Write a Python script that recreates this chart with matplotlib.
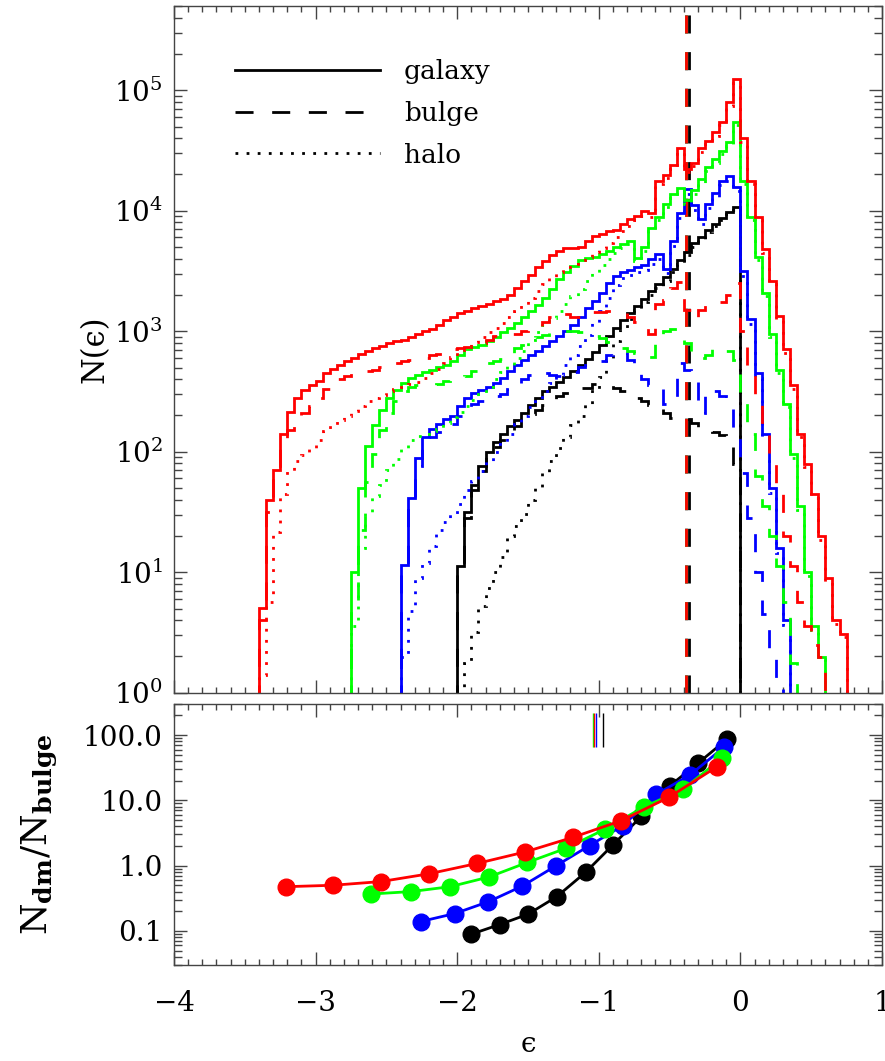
import numpy as np
import matplotlib
matplotlib.use("Agg")
import matplotlib.pyplot as plt
from matplotlib.lines import Line2D
from matplotlib.ticker import MultipleLocator, LogLocator, FixedLocator, FixedFormatter, NullFormatter

plt.rcParams['font.family'] = ['DejaVu Serif', 'DejaVu Sans']
plt.rcParams['mathtext.fontset'] = 'dejavuserif'

# histogram bin width in epsilon, and where each run's histogram starts
BIN = 0.05
runs = ['black', 'blue', 'green', 'red']
colors = ['#000000', '#0000ff', '#00ff00', '#ff0000']
start_eps = [-2.00, -2.40, -2.75, -3.40]

# log10 N(eps) per bin
black_galaxy = [1.05, 1.50, 1.72, 1.88, 2.00, 2.08, 2.15, 2.21, 2.26, 2.32,
                2.39, 2.45, 2.50, 2.54, 2.58, 2.62, 2.67, 2.72, 2.77, 2.83,
                2.89, 2.96, 3.03, 3.09, 3.15, 3.21, 3.27, 3.33, 3.39, 3.45,
                3.52, 3.59, 3.66, 3.73, 3.78, 3.84, 3.89, 3.94, 3.99, 4.03]
black_bulge = [1.0, 1.45, 1.68, 1.84, 1.96, 2.04, 2.10, 2.16, 2.21, 2.26,
               2.31, 2.35, 2.39, 2.43, 2.46, 2.49, 2.51, 2.53, 2.53, 2.56,
               2.56, 2.55, 2.53, 2.50, 2.47, 2.45, 2.42, 2.39, 2.36, 2.32,
               2.28, 2.26, 2.27, 2.24, 2.20, 2.18, 2.16, 2.14, 2.05, 1.90]
black_halo = [0.05, 0.25, 0.50, 0.72, 0.87, 1.00, 1.13, 1.30, 1.38, 1.48,
              1.60, 1.70, 1.82, 1.92, 2.03, 2.12, 2.22, 2.30, 2.40, 2.52,
              2.62, 2.76, 2.92, 3.02, 3.10, 3.18, 3.24, 3.30, 3.36, 3.42,
              3.49, 3.56, 3.63, 3.70, 3.76, 3.82, 3.87, 3.92, 3.97, 4.01]

blue_galaxy = [1.06, 1.62, 1.95, 2.12, 2.19, 2.23, 2.27, 2.30, 2.38, 2.45,
               2.49, 2.51, 2.54, 2.57, 2.61, 2.67, 2.72, 2.76, 2.80, 2.84,
               2.88, 2.92, 2.96, 3.00, 3.05, 3.12, 3.19, 3.25, 3.32, 3.40,
               3.46, 3.49, 3.51, 3.53, 3.55, 3.60, 3.64, 3.52, 3.75, 3.98,
               4.18, 4.05, 3.93, 4.06, 4.15, 4.25, 4.29, 4.20, 3.50, 3.10,
               2.65, 2.15, 1.70, 1.20, 0.60]
blue_bulge = [1.0, 1.55, 1.88, 2.05, 2.12, 2.16, 2.20, 2.23, 2.30, 2.36,
              2.40, 2.42, 2.44, 2.46, 2.48, 2.52, 2.56, 2.60, 2.64, 2.66,
              2.65, 2.64, 2.63, 2.64, 2.66, 2.70, 2.74, 2.75, 2.75, 2.80,
              2.84, 2.82, 2.76, 2.68, 2.60, 2.55, 2.52, 2.40, 2.42, 2.74,
              2.68, 2.62, 2.32, 2.52, 2.50, 2.46, 2.40, 2.15, 1.82, 1.45,
              1.00, 0.65, 0.30, 0.05]
blue_halo = [0.3, 0.68, 0.95, 1.08, 1.22, 1.35, 1.42, 1.48, 1.57, 1.68,
             1.76, 1.84, 1.92, 2.00, 2.08, 2.15, 2.23, 2.30, 2.37, 2.44,
             2.50, 2.57, 2.64, 2.72, 2.80, 2.88, 2.97, 3.07, 3.17, 3.28,
             3.38, 3.44, 3.47, 3.49, 3.51, 3.56, 3.60, 3.48, 3.71, 3.94,
             4.14, 4.01, 3.89, 4.02, 4.11, 4.21, 4.25, 4.16, 3.46, 3.06,
             2.61, 2.11, 1.66, 1.16, 0.56]

green_galaxy = [1.0, 1.7, 2.05, 2.22, 2.35, 2.45, 2.51, 2.57, 2.61, 2.64,
                2.66, 2.68, 2.70, 2.72, 2.75, 2.80, 2.85, 2.87, 2.89, 2.92,
                2.95, 2.99, 3.03, 3.07, 3.12, 3.17, 3.22, 3.28, 3.35, 3.43,
                3.49, 3.54, 3.59, 3.61, 3.62, 3.64, 3.67, 3.70, 3.72, 3.75,
                3.61, 3.70, 3.86, 3.95, 4.06, 4.14, 4.19, 4.09, 4.17, 4.26,
                4.36, 4.43, 4.50, 4.57, 4.74, 4.25, 3.95, 3.62, 3.32, 2.98,
                2.68, 2.40, 1.98, 1.55, 1.00, 0.55, 0.30]
green_bulge = [0.7, 1.35, 1.75, 1.98, 2.18, 2.32, 2.42, 2.50, 2.54, 2.55,
               2.55, 2.55, 2.56, 2.59, 2.62, 2.62, 2.63, 2.67, 2.72, 2.74,
               2.75, 2.77, 2.81, 2.86, 2.89, 2.92, 2.95, 2.97, 2.99, 3.00,
               3.00, 3.00, 2.99, 2.99, 2.96, 2.94, 2.91, 2.88, 2.86, 2.84,
               2.82, 2.80, 2.79, 2.96, 3.00, 3.02, 2.95, 2.90, 2.82, 2.78,
               2.80, 2.86, 2.85, 2.84, 2.76, 2.45, 2.15, 1.80, 1.55, 1.30,
               1.05, 0.75, 0.25]
green_halo = [0.55, 1.20, 1.50, 1.63, 1.72, 1.85, 1.94, 2.02, 2.10, 2.13,
              2.15, 2.17, 2.19, 2.24, 2.29, 2.33, 2.38, 2.43, 2.48, 2.54,
              2.60, 2.66, 2.72, 2.78, 2.84, 2.93, 2.99, 3.05, 3.11, 3.17,
              3.23, 3.29, 3.35, 3.42, 3.48, 3.55, 3.60, 3.65, 3.69, 3.72,
              3.58, 3.67, 3.83, 3.92, 4.03, 4.11, 4.16, 4.06, 4.14, 4.23,
              4.33, 4.40, 4.47, 4.54, 4.71, 4.22, 3.92, 3.59, 3.29, 2.95,
              2.65, 2.37, 1.95, 1.52, 0.97, 0.52, 0.28]

red_galaxy = [0.7, 1.6, 1.85, 2.15, 2.33, 2.45, 2.51, 2.55, 2.59, 2.65,
              2.69, 2.72, 2.75, 2.78, 2.81, 2.84, 2.86, 2.88, 2.90, 2.92,
              2.93, 2.95, 2.98, 3.00, 3.02, 3.05, 3.09, 3.12, 3.15, 3.17,
              3.19, 3.21, 3.23, 3.25, 3.27, 3.30, 3.36, 3.42, 3.47, 3.53,
              3.58, 3.63, 3.67, 3.69, 3.69, 3.70, 3.75, 3.79, 3.81, 3.83,
              3.84, 3.89, 3.93, 3.96, 4.00, 3.98, 4.25, 4.30, 4.38, 4.52,
              4.35, 4.40, 4.52, 4.58, 4.65, 4.74, 4.90, 5.09, 4.60, 4.25,
              3.95, 3.68, 3.42, 3.13, 2.85, 2.55, 2.15, 1.90, 1.65, 1.30,
              0.95, 0.60, 0.49]
red_bulge = [0.6, 1.5, 1.78, 2.02, 2.18, 2.24, 2.32, 2.38, 2.45, 2.52,
             2.56, 2.60, 2.63, 2.65, 2.66, 2.67, 2.68, 2.70, 2.72, 2.74,
             2.75, 2.76, 2.77, 2.78, 2.80, 2.81, 2.83, 2.85, 2.86, 2.87,
             2.89, 2.90, 2.93, 2.96, 2.98, 2.98, 2.98, 3.00, 3.02, 3.04,
             3.08, 3.12, 3.15, 3.14, 3.12, 3.12, 3.14, 3.16, 3.16, 3.17,
             3.17, 3.15, 3.12, 3.08, 3.03, 2.98, 3.23, 3.26, 3.36, 3.41,
             3.18, 3.10, 3.18, 3.22, 3.22, 3.24, 3.30, 3.40, 3.00, 2.66,
             2.40, 2.18, 1.92, 1.70, 1.30, 1.05, 0.75, 0.55, 0.40, 0.30]
red_halo = [0.15, 0.75, 1.33, 1.65, 1.84, 1.92, 1.97, 2.03, 2.10, 2.17,
            2.22, 2.26, 2.30, 2.34, 2.38, 2.42, 2.45, 2.47, 2.50, 2.52,
            2.54, 2.56, 2.58, 2.61, 2.65, 2.69, 2.74, 2.79, 2.83, 2.87,
            2.91, 2.95, 2.99, 3.03, 3.07, 3.12, 3.17, 3.22, 3.28, 3.33,
            3.39, 3.44, 3.49, 3.53, 3.56, 3.59, 3.62, 3.66, 3.69, 3.73,
            3.78, 3.83, 3.87, 3.92, 3.96, 3.95, 4.22, 4.27, 4.35, 4.49,
            4.32, 4.37, 4.49, 4.55, 4.62, 4.71, 4.87, 5.06, 4.57, 4.22,
            3.92, 3.65, 3.39, 3.10, 2.82, 2.52, 2.12, 1.87, 1.62, 1.27,
            0.92, 0.57, 0.46]

galaxy = [black_galaxy, blue_galaxy, green_galaxy, red_galaxy]
bulge = [black_bulge, blue_bulge, green_bulge, red_bulge]
halo = [black_halo, blue_halo, green_halo, red_halo]

# bulge energy cut (vertical dashed lines)
bulge_cut = [-0.365, -0.383, -0.383, -0.383]

# lower panel: N_dm / N_bulge
black_eps = [-1.90, -1.70, -1.50, -1.297, -1.093, -0.898, -0.699, -0.499, -0.30, -0.093]
black_ratio = [0.089, 0.125, 0.18, 0.334, 0.79, 2.1, 5.68, 16.7, 37.0, 87.0]
blue_eps = [-2.258, -2.018, -1.779, -1.54, -1.30, -1.065, -0.83, -0.595, -0.356, -0.116]
blue_ratio = [0.139, 0.184, 0.28, 0.486, 1.0, 2.03, 4.1, 12.3, 24.5, 65.0]
green_eps = [-2.608, -2.325, -2.05, -1.775, -1.504, -1.229, -0.954, -0.683, -0.404, -0.132]
green_ratio = [0.367, 0.40, 0.475, 0.67, 1.12, 1.85, 3.64, 7.88, 14.8, 44.0]
red_eps = [-3.21, -2.876, -2.537, -2.198, -1.859, -1.52, -1.181, -0.842, -0.503, -0.164]
red_ratio = [0.475, 0.50, 0.57, 0.75, 1.08, 1.62, 2.72, 4.88, 11.2, 32.9]
ratio_eps = [black_eps, blue_eps, green_eps, red_eps]
ratio_vals = [black_ratio, blue_ratio, green_ratio, red_ratio]
# short marks near the top of the lower panel
mark_eps = [-0.971, -1.022, -1.040, -1.031]
mark_range = [65, 220]

ratio_ticks = [0.1, 1.0, 10.0, 100.0]
ratio_labels = ['0.1', '1.0', '10.0', '100.0']

DASH = (0, (6.5, 6.7))
DOT = (0, (1, 3))
FRAME = '#444444'

fig = plt.figure(figsize=(8.85, 10.61), dpi=100)
ax = fig.add_axes([0.1966, 0.3471, 0.8, 0.6472])
ax2 = fig.add_axes([0.1966, 0.0905, 0.8, 0.246])

for col, cut in zip(colors, bulge_cut):
    ax.axvline(cut, color=col, lw=2, linestyle=DASH, zorder=1)

for col, x0, g, b, h in zip(colors, start_eps, galaxy, bulge, halo):
    for vals, ls in ((h, DOT), (b, DASH), (g, '-')):
        n = 10.0 ** np.array(vals)
        edges = x0 + BIN * np.arange(len(n) + 1)
        ax.stairs(n, edges, baseline=0.1, edgecolor=col, lw=2, linestyle=ls, zorder=2)

ax.set_xlim(-4, 1)
ax.set_yscale('log')
ax.set_ylim(1, 5e5)
ax.set_ylabel('N(ϵ)', fontsize=22)
ax.yaxis.set_label_coords(-0.09, 0.5)

handles = [Line2D([], [], color='k', lw=2, linestyle='-'),
           Line2D([], [], color='k', lw=2, linestyle=DASH),
           Line2D([], [], color='k', lw=2, linestyle=DOT)]
ax.legend(handles, ['galaxy', 'bulge', 'halo'], loc='upper left',
          bbox_to_anchor=(0.086, 0.923), frameon=False, fontsize=19,
          handlelength=5.5, handletextpad=0.9, labelspacing=0.64,
          borderpad=0, borderaxespad=0)

for col, xs, ys in zip(colors, ratio_eps, ratio_vals):
    ax2.plot(xs, ys, color=col, lw=2, marker='o', ms=12, mec=col, mfc=col)
for col, m in zip(colors, mark_eps):
    ax2.vlines(m, mark_range[0], mark_range[1], colors=col, lw=1)

ax2.set_xlim(-4, 1)
ax2.set_yscale('log')
ax2.set_ylim(0.03, 300)
ax2.yaxis.set_major_locator(FixedLocator(ratio_ticks))
ax2.yaxis.set_major_formatter(FixedFormatter(ratio_labels))
ax2.yaxis.set_minor_locator(LogLocator(subs=np.arange(2, 10)))
ax2.yaxis.set_minor_formatter(NullFormatter())
ax2.set_ylabel(r'N$_{\mathbf{dm}}$/N$_{\mathbf{bulge}}$', fontsize=26)
ax2.yaxis.set_label_coords(-0.162, 0.5)
ax2.set_xlabel('ϵ', fontsize=20, va='center')
ax2.xaxis.set_label_coords(0.5, -0.306)

for a in (ax, ax2):
    a.xaxis.set_major_locator(MultipleLocator(1))
    a.xaxis.set_minor_locator(MultipleLocator(0.1))
    a.tick_params(which='both', direction='in', top=True, right=True,
                  color=FRAME, width=1, labelsize=20)
    a.tick_params(which='major', length=9.5)
    a.tick_params(axis='x', which='minor', length=4.5)
    a.tick_params(axis='y', which='minor', length=5.5)
    a.tick_params(axis='y', pad=8)
    a.tick_params(axis='x', pad=18)
    for s in a.spines.values():
        s.set_color(FRAME)
        s.set_linewidth(1)
ax.tick_params(axis='x', labelbottom=False)

fig.savefig('out.png', dpi=100)
